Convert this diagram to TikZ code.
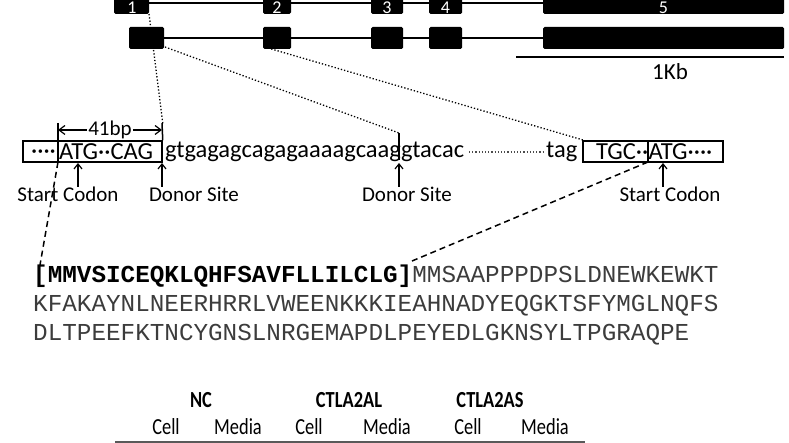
\documentclass[tikz,border=0pt]{standalone}
\usepackage{fontspec}
\setmainfont{Carlito}
\newfontfamily\protfont{Liberation Mono}
\newfontfamily\condfont[FakeStretch=0.8]{Carlito}
\usetikzlibrary{arrows.meta}
\definecolor{protgray}{HTML}{3C3C3C}
\begin{document}
\begin{tikzpicture}[x=1pt,y=-1pt,
  exon/.style={fill=black,rounded corners=1.5pt,inner sep=0pt},
  exnum/.style={text=white,font=\fontsize{18}{18}\selectfont,anchor=base,inner sep=0pt},
  intron/.style={line width=1.8pt},
  dotc/.style={line width=1.3pt,dotted},
  dashc/.style={line width=1.5pt,dash pattern=on 6pt off 4pt},
  seqbox/.style={draw,line width=1.5pt,inner sep=0pt},
  seqtxt/.style={font=\fontsize{24.5}{24.5}\selectfont,inner sep=0pt,anchor=base west},
  lbl/.style={font=\fontsize{21}{21}\selectfont,inner sep=0pt,anchor=base},
  upar/.style={line width=1.2pt,-{Straight Barb[length=5pt,width=8pt]}},
  dimar/.style={line width=1.2pt,-{Straight Barb[length=6pt,width=9pt]}},
  prot/.style={font=\protfont\fontsize{24.3}{24.3}\selectfont,inner sep=0pt,anchor=base west},
  thead/.style={font=\condfont\bfseries\fontsize{23}{23}\selectfont,inner sep=0pt,anchor=base},
  tsub/.style={font=\condfont\fontsize{23}{23}\selectfont,inner sep=0pt,anchor=base}]
\clip (0,0) rectangle (789,443);
\useasboundingbox (0,0) rectangle (789,443);
% gene structure, row 1
\node[exon,minimum width=35pt,minimum height=22pt] (e1) at (131.5,3) {};
\node[exon,minimum width=28pt,minimum height=22pt] (e2) at (277,3) {};
\node[exon,minimum width=32pt,minimum height=22pt] (e3) at (387,3) {};
\node[exon,minimum width=33pt,minimum height=22pt] (e4) at (445.5,3) {};
\node[exon,minimum width=241pt,minimum height=22pt] (e5) at (663.5,3) {};
\draw[intron] (e1.east) -- (e5.west);
\node[exnum] (n1) at (132,13.5) {1};
\node[exnum] (n2) at (277,13.5) {2};
\node[exnum] (n3) at (387,13.5) {3};
\node[exnum] (n4) at (445.5,13.5) {4};
\node[exnum] (n5) at (663.5,13.5) {5};
% row 2
\coordinate (d0s) at (149,14);
\coordinate (d0e) at (163,125);
\draw[dotc] (d0s) -- (d0e);
\node[exon,minimum width=35pt,minimum height=22pt] (f1) at (146.5,38) {};
\node[exon,minimum width=28pt,minimum height=22pt] (f2) at (277,38) {};
\node[exon,minimum width=32pt,minimum height=22pt] (f3) at (387,38) {};
\node[exon,minimum width=33pt,minimum height=22pt] (f4) at (445.5,38) {};
\node[exon,minimum width=241pt,minimum height=22pt] (f5) at (663.5,38) {};
\draw[intron] (f1.east) -- (f5.west);
% scale bar
\coordinate (sb1) at (516,57);
\coordinate (sb2) at (784,57);
\draw[line width=1.6pt] (sb1) -- (sb2);
\node[font=\fontsize{23}{23}\selectfont,inner sep=0pt,anchor=base] (kb) at (670,80) {1Kb};
% sequence row
\node[seqbox,minimum width=139pt,minimum height=21pt] (b1) at (92.5,151.5) {};
\node[seqbox,minimum width=140pt,minimum height=21pt] (b2) at (653,151.5) {};
\coordinate (div1t) at (58,123);
\coordinate (div1b) at (58,162);
\draw[line width=1.5pt] (div1t) -- (div1b);
\coordinate (don1t) at (162,123);
\draw[line width=1.5pt] (don1t) -- (b1.north east);
\coordinate (div2t) at (648,141);
\coordinate (div2b) at (648,162);
\draw[line width=1.5pt] (div2t) -- (div2b);
\node[seqtxt] (t1a) at (31,159) {····};
\node[seqtxt] (t1b) at (59,159.5) {ATG··CAG};
\node[seqtxt] (t2) at (165,158) {gtgagagcagagaaaagcaaggtacac};
\coordinate (sd1) at (469,152);
\coordinate (sd2) at (545,152);
\draw[line width=1.2pt,dotted,black!70] (sd1) -- (sd2);
\node[seqtxt] (tag) at (546,158) {tag};
\node[seqtxt] (t3a) at (596,159.5) {TGC··};
\node[seqtxt] (t3b) at (648.5,159.5) {ATG····};
\coordinate (don2t) at (399,133);
\coordinate (don2b) at (399,160);
\draw[line width=1.5pt] (don2t) -- (don2b);
% 41bp
\node[font=\fontsize{21}{21}\selectfont,inner sep=1.5pt,anchor=base] (bp) at (110,135.5) {41bp};
\coordinate (bpl) at (58,130);
\coordinate (bpr) at (162,130);
\draw[dimar] (bpl -| bp.west) -- (bpl);
\draw[dimar] (bpr -| bp.east) -- (bpr);
% dotted connectors
\coordinate (d1s) at (165,47);
\coordinate (d2s) at (268,48);
\coordinate (d2e) at (583,140);
\draw[dotc] (d1s) -- (don2t);
\draw[dotc] (d2s) -- (d2e);
% arrows and labels
\coordinate (a1) at (78,187);   \coordinate (a1t) at (78,163);
\coordinate (a2) at (162,187);  \coordinate (a2t) at (162,163);
\coordinate (a3) at (399,187);  \coordinate (a3t) at (399,163);
\coordinate (a4) at (663,187);  \coordinate (a4t) at (663,163);
\draw[upar] (a1) -- (a1t);
\draw[upar] (a2) -- (a2t);
\draw[upar] (a3) -- (a3t);
\draw[upar] (a4) -- (a4t);
\node[lbl] (l1) at (68,202) {Start Codon};
\node[lbl] (l2) at (194,202) {Donor Site};
\node[lbl] (l3) at (407,202) {Donor Site};
\node[lbl] (l4) at (670,202) {Start Codon};
% protein
\coordinate (pb1) at (40,265);
\coordinate (pb2) at (412,261);
\draw[dashc] (div1b) -- (pb1);
\draw[dashc] (div2b) -- (pb2);
\node[prot] (p1) at (33,283) {\textbf{[MMVSICEQKLQHFSAVFLLILCLG]}\textcolor{protgray}{MMSAAPPPDPSLDNEWKEWKT}};
\node[prot,text=protgray] (p2) at (33,312) {KFAKAYNLNEERHRRLVWEENKKKIEAHNADYEQGKTSFYMGLNQFS};
\node[prot,text=protgray] (p3) at (33,341) {DLTPEEFKTNCYGNSLNRGEMAPDLPEYEDLGKNSYLTPGRAQPE};
% table header
\node[thead] (h1) at (201,407) {NC};
\node[thead] (h2) at (349,407) {CTLA2AL};
\node[thead] (h3) at (490,407) {CTLA2AS};
\node[tsub] (c1) at (166,434) {Cell};
\node[tsub] (c2) at (238,434) {Media};
\node[tsub] (c3) at (309,434) {Cell};
\node[tsub] (c4) at (387,434) {Media};
\node[tsub] (c5) at (468,434) {Cell};
\node[tsub] (c6) at (545,434) {Media};
\coordinate (tl1) at (115,442.5);
\coordinate (tl2) at (585,442.5);
\draw[line width=2.5pt,black!65] (tl1) -- (tl2);
\end{tikzpicture}
\end{document}
